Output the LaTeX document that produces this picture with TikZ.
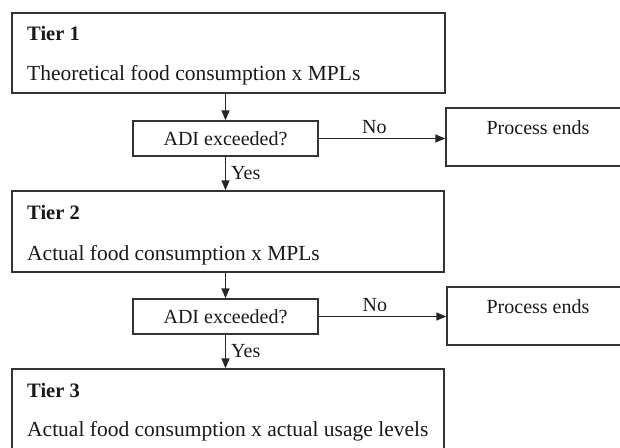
\documentclass[tikz,border=0pt]{standalone}
\usepackage{fontspec}
\setmainfont{Liberation Serif}
\usetikzlibrary{arrows.meta}
\begin{document}
\begin{tikzpicture}[x=1pt,y=-1pt,
 box/.style={draw=black!80,line width=1.4pt,rectangle,inner sep=0pt},
 txt/.style={font=\fontsize{20}{24}\selectfont,inner sep=0pt,text=black!90},
 big/.style={font=\fontsize{21.5}{25}\selectfont,inner sep=0pt,text=black!90},
 hd/.style={font=\fontsize{20.5}{24}\selectfont\bfseries,inner sep=0pt,text=black!90},
 arr/.style={draw=black!85,line width=1.4pt,-{Triangle[length=10pt,width=8pt]}}]
\useasboundingbox (0,0) rectangle (620,447);
\clip (0,0) rectangle (620,447);
% boxes
\node[box,minimum width=433pt,minimum height=80pt] (t1) at (228.5,53) {};
\node[box,minimum width=185pt,minimum height=35pt] (a1) at (225.5,138.5) {};
\node[box,minimum width=200pt,minimum height=58pt] (p1) at (546,137) {};
\node[box,minimum width=432pt,minimum height=81pt] (t2) at (228,231.5) {};
\node[box,minimum width=185pt,minimum height=35pt] (a2) at (225.5,316.5) {};
\node[box,minimum width=200pt,minimum height=58pt] (p2) at (547,316) {};
\node[box,minimum width=432pt,minimum height=110pt] (t3) at (228,424) {};
% texts
\node[hd,anchor=west] (h1) at (27,33) {Tier 1};
\node[big,anchor=west] (s1) at (27,75) {Theoretical food consumption x MPLs};
\node[txt] (q1) at (a1) {ADI exceeded?};
\node[txt] (e1) at (538,128) {Process ends};
\node[hd,anchor=west] (h2) at (27,212) {Tier 2};
\node[big,anchor=west] (s2) at (27,255) {Actual food consumption x MPLs};
\node[txt] (q2) at (a2) {ADI exceeded?};
\node[txt] (e2) at (538,307) {Process ends};
\node[hd,anchor=west] (h3) at (27,390) {Tier 3};
\node[big,anchor=west] (s3) at (27,431) {Actual food consumption x actual usage levels};
% connectors
\draw[arr] (t1.south -| a1.north) -- (a1.north);
\draw[arr] (a1.south) -- node[txt,right,xshift=5pt,pos=0.5] {Yes} (a1.south |- t2.north);
\draw[arr] (a1.east) -- node[txt,above,yshift=4pt,pos=0.44] {No} (a1.east -| p1.west);
\draw[arr] (t2.south -| a2.north) -- (a2.north);
\draw[arr] (a2.south) -- node[txt,right,xshift=5pt,pos=0.5] {Yes} (a2.south |- t3.north);
\draw[arr] (a2.east) -- node[txt,above,yshift=4pt,pos=0.44] {No} (a2.east -| p2.west);
\end{tikzpicture}
\end{document}
